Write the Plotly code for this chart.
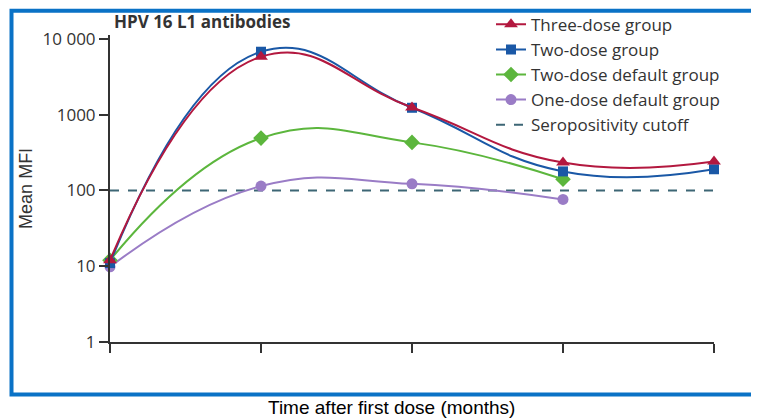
import plotly.graph_objects as go

# ---- data ----
timepoints = [0, 1, 2, 3, 4]          # equally spaced visits (no tick labels shown)
three_dose = [12, 5800, 1240, 233, 240]
two_dose = [11, 6750, 1230, 178, 190]
two_dose_default = [12, 490, 430, 140]
one_dose_default = [9.8, 114, 122, 76]
cutoff_value = 100
y_tickvals = [1, 10, 100, 1000, 10000]
y_ticktext = ["1", "10", "100", "1000", "10 000"]

# page is rendered with an 8px body margin: work in page pixels, shift by OFF
OFF = 8
PAGE_W, PAGE_H = 759, 418
W, H = PAGE_W - OFF, PAGE_H - OFF
# plot area in page pixels
X0, X1 = 110, 714
Y_BOTTOM = 342
DEC = 75.75
YMAX = 4.05
Y_TOP = Y_BOTTOM - YMAX * DEC
L, R = X0 - OFF, PAGE_W - X1
T, B = Y_TOP - OFF, PAGE_H - Y_BOTTOM
pw, ph = X1 - X0, Y_BOTTOM - Y_TOP

def px(x):
    return (x - X0) / pw

def py(y):
    return (Y_BOTTOM - y) / ph

font_main = "Open Sans, Lato, sans-serif"
fig = go.Figure()

fig.add_trace(go.Scatter(
    x=[timepoints[0], timepoints[-1]], y=[cutoff_value, cutoff_value],
    mode="lines", name="Seropositivity cutoff", legendrank=5,
    line=dict(color="#3d6675", width=2, dash="dash"),
    cliponaxis=False))

series = [
    ("Three-dose group", three_dose, "#b3183f", "triangle-up", 12, 1),
    ("Two-dose group", two_dose, "#1a58a6", "square", 10, 2),
    ("Two-dose default group", two_dose_default, "#5cb63d", "diamond", 12, 3),
    ("One-dose default group", one_dose_default, "#9a7cc6", "circle", 11, 4),
]
for name, vals, col, sym, size, rank in series[::-1]:
    fig.add_trace(go.Scatter(
        x=timepoints[:len(vals)], y=vals, mode="lines+markers", name=name,
        legendrank=rank,
        line=dict(color=col, width=2, shape="spline", smoothing=1.3),
        marker=dict(color=col, symbol=sym, size=size),
        cliponaxis=False))

fig.update_layout(
    width=W, height=H,
    margin=dict(l=L, r=R, t=T, b=B, pad=0, autoexpand=False),
    paper_bgcolor="white", plot_bgcolor="white",
    font=dict(family=font_main, color="#333333", size=15),
    showlegend=True,
    legend=dict(x=px(491), y=py(7), xanchor="left", yanchor="top",
                bgcolor="rgba(0,0,0,0)", font=dict(size=17, color="#333333"),
                tracegroupgap=0, itemwidth=30),
    xaxis=dict(range=[0, 4], showgrid=False, zeroline=False,
               tickvals=timepoints, ticktext=[""] * len(timepoints),
               ticks="outside", ticklen=9, tickwidth=2, tickcolor="#333333",
               showline=True, linecolor="#333333", linewidth=2),
    yaxis=dict(type="log", range=[0, YMAX], showgrid=False, zeroline=False,
               tickvals=y_tickvals, ticktext=y_ticktext,
               ticks="outside", ticklen=9, tickwidth=2, tickcolor="#333333",
               showline=True, linecolor="#333333", linewidth=2,
               tickfont=dict(size=17, color="#333333")),
    shapes=[dict(type="rect", xref="paper", yref="paper",
                 x0=px(11.5), x1=px(790), y0=py(394.5), y1=py(11),
                 line=dict(color="#0a72c6", width=4), layer="above")],
    annotations=[
        dict(text="<b>HPV 16 L1 antibodies</b>", xref="paper", yref="paper",
             x=px(112), y=py(22), xanchor="left", yanchor="middle",
             showarrow=False, font=dict(size=17, color="#333333", family=font_main)),
        dict(text="Mean MFI", xref="paper", yref="paper",
             x=px(26), y=py(189), xanchor="center", yanchor="middle",
             textangle=-90, showarrow=False,
             font=dict(size=18, color="#333333", family="Liberation Sans, Arial")),
        dict(text="Time after first dose (months)", xref="paper", yref="paper",
             x=px(391), y=py(407), xanchor="center", yanchor="middle",
             showarrow=False,
             font=dict(size=19, color="#000000", family="Liberation Sans, Arial")),
    ],
)

fig.write_html("out.html")
